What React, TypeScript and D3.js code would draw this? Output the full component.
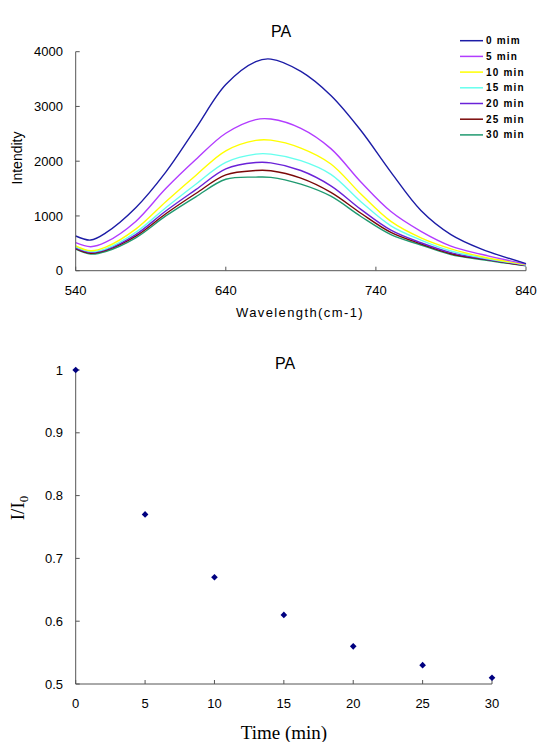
import React from "react";
import * as d3 from "d3";

const width = 538;
const height = 742;

// spectra: intensity at each wavelength, one array per time
const wavelengths = [540, 550, 560, 580, 600, 620, 640, 660, 670, 690, 710, 730, 750, 770, 790, 810, 840];
const i0 = [634, 560, 690, 1150, 1800, 2600, 3400, 3820, 3865, 3640, 3200, 2560, 1800, 1100, 660, 400, 130];
const i5 = [512, 438, 520, 900, 1500, 2030, 2510, 2760, 2770, 2600, 2230, 1620, 1080, 720, 450, 300, 120];
const i10 = [455, 365, 430, 760, 1260, 1740, 2190, 2380, 2385, 2240, 1950, 1400, 900, 600, 400, 260, 110];
const i15 = [435, 350, 400, 700, 1150, 1580, 1980, 2130, 2130, 2010, 1760, 1260, 820, 560, 360, 240, 105];
const i20 = [418, 335, 385, 660, 1090, 1480, 1860, 1975, 1970, 1830, 1550, 1120, 740, 510, 330, 225, 100];
const i25 = [405, 320, 370, 630, 1040, 1410, 1750, 1830, 1825, 1690, 1430, 1050, 700, 490, 310, 215, 95];
const i30 = [395, 305, 350, 600, 1000, 1350, 1670, 1710, 1705, 1580, 1360, 990, 660, 470, 295, 205, 90];

const seriesLabels = ["0 mim", "5 min", "10 min", "15 min", "20 min", "25 min", "30 min"];
const seriesColors = ["#1c1ca6", "#b23cff", "#ffff00", "#66ffee", "#6a22d8", "#7a0808", "#1f9a70"];
const spectra = [i0, i5, i10, i15, i20, i25, i30];

const wlTicks = [540, 640, 740, 840];
const intTicks = [0, 1000, 2000, 3000, 4000];

// ratio plot
const times = [0, 5, 10, 15, 20, 25, 30];
const ratios = [1.0, 0.77, 0.67, 0.61, 0.56, 0.53, 0.51];
const timeTicks = [0, 5, 10, 15, 20, 25, 30];
const ratioTicks = [0.5, 0.6, 0.7, 0.8, 0.9, 1];

const axisColor = "#555";
const sans = "'Liberation Sans', Arial, sans-serif";
const serif = "'Liberation Serif', 'Times New Roman', serif";

export default function App() {
  const x1 = d3.scaleLinear().domain([540, 840]).range([75.7, 526]);
  const y1 = d3.scaleLinear().domain([0, 4000]).range([270.7, 51.7]);

  const x2 = d3.scaleLinear().domain([0, 30]).range([75.7, 492]);
  const y2 = d3.scaleLinear().domain([0.5, 1]).range([684, 370]);

  const line = d3
    .line<number>()
    .x((_, i) => x1(wavelengths[i]))
    .y((d) => y1(d))
    .curve(d3.curveCatmullRom.alpha(0.5));

  // square rotated 45deg gives an even diamond
  const diamond = d3.symbol().type(d3.symbolSquare).size(22)();

  return (
    <svg
      width={width}
      height={height}
      style={{ position: "absolute", left: 0, top: 0, background: "#fff" }}
    >
      {/* top chart */}
      <text x={281} y={37} textAnchor="middle" fontFamily={sans} fontSize={16}>
        PA
      </text>
      {spectra
        .map((s, k) => (
          <path key={k} d={line(s) || ""} fill="none" stroke={seriesColors[k]} strokeWidth={1.4} />
        ))
        .reverse()}
      <line x1={x1(540)} x2={x1(840)} y1={y1(0)} y2={y1(0)} stroke={axisColor} />
      <line x1={x1(540)} x2={x1(540)} y1={y1(0)} y2={y1(4000)} stroke={axisColor} />
      {intTicks.map((t) => (
        <g key={t}>
          <line x1={x1(540)} x2={x1(540) + 4} y1={y1(t)} y2={y1(t)} stroke={axisColor} />
          <text x={63} y={y1(t)} dy="0.35em" textAnchor="end" fontFamily={sans} fontSize={13}>
            {t}
          </text>
        </g>
      ))}
      {wlTicks.map((t) => (
        <g key={t}>
          <line x1={x1(t)} x2={x1(t)} y1={y1(0)} y2={y1(0) - 4} stroke={axisColor} />
          <text x={x1(t)} y={290} dy="0.35em" textAnchor="middle" fontFamily={sans} fontSize={13}>
            {t}
          </text>
        </g>
      ))}
      <text
        x={300}
        y={312}
        dy="0.35em"
        textAnchor="middle"
        fontFamily={sans}
        fontSize={13}
        letterSpacing={1.4}
      >
        Wavelength(cm-1)
      </text>
      <text
        transform="translate(17,158) rotate(-90)"
        dy="0.35em"
        textAnchor="middle"
        fontFamily={sans}
        fontSize={14}
      >
        Intendity
      </text>
      {seriesLabels.map((lab, k) => (
        <g key={lab} transform={`translate(460,${40.7 + k * 15.7})`}>
          <line x1={0} x2={23} y1={0} y2={0} stroke={seriesColors[k]} strokeWidth={1.5} />
          <text
            x={26}
            dy="0.35em"
            fontFamily={sans}
            fontSize={10}
            fontWeight="bold"
            letterSpacing={1.2}
          >
            {lab}
          </text>
        </g>
      ))}

      {/* bottom chart */}
      <text x={285} y={369} textAnchor="middle" fontFamily={sans} fontSize={16}>
        PA
      </text>
      <line x1={x2(0)} x2={x2(30)} y1={y2(0.5)} y2={y2(0.5)} stroke={axisColor} />
      <line x1={x2(0)} x2={x2(0)} y1={y2(0.5)} y2={y2(1)} stroke={axisColor} />
      {ratioTicks.map((t) => (
        <g key={t}>
          <line x1={x2(0)} x2={x2(0) + 4} y1={y2(t)} y2={y2(t)} stroke={axisColor} />
          <text x={63} y={y2(t)} dy="0.35em" textAnchor="end" fontFamily={sans} fontSize={13}>
            {t}
          </text>
        </g>
      ))}
      {timeTicks.map((t) => (
        <g key={t}>
          <line x1={x2(t)} x2={x2(t)} y1={y2(0.5)} y2={y2(0.5) - 4} stroke={axisColor} />
          <text x={x2(t)} y={703} dy="0.35em" textAnchor="middle" fontFamily={sans} fontSize={13}>
            {t}
          </text>
        </g>
      ))}
      {times.map((t, i) => (
        <path
          key={t}
          d={diamond || ""}
          transform={`translate(${x2(t)},${y2(ratios[i])}) rotate(45)`}
          fill="#000080"
        />
      ))}
      <text x={284} y={732} dy="0.35em" textAnchor="middle" fontFamily={serif} fontSize={19}>
        Time (min)
      </text>
      <text
        transform="translate(17,508) rotate(-90)"
        dy="0.35em"
        textAnchor="middle"
        fontFamily={serif}
        fontSize={19}
      >
        I/I
        <tspan fontSize={13} dy="0.3em">
          0
        </tspan>
      </text>
    </svg>
  );
}
